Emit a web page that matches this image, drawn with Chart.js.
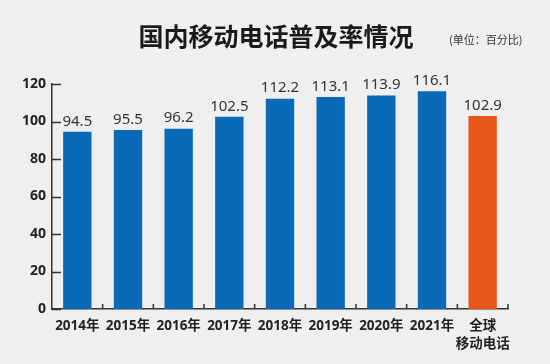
<!DOCTYPE html>
<html><head><meta charset="utf-8">
<script src="https://cdn.jsdelivr.net/npm/chart.js@4"></script>
<style>html,body{margin:0;padding:0;background:#efefef;}#wrap{width:550px;height:364px;}</style>
</head><body><div id="wrap"><canvas id="c" width="550" height="364"></canvas></div>
<script>
const categories = ['2014年','2015年','2016年','2017年','2018年','2019年','2020年','2021年',['全球','移动电话']];
const values = [94.5, 95.5, 96.2, 102.5, 112.2, 113.1, 113.9, 116.1, 102.9];
const barColors = ['#0a6ab8','#0a6ab8','#0a6ab8','#0a6ab8','#0a6ab8','#0a6ab8','#0a6ab8','#0a6ab8','#e8561a'];
const yTicks = [0, 20, 40, 60, 80, 100, 120];
const titleText = '国内移动电话普及率情况';
const unitText = '(单位：百分比)';

const FONT = "'Noto Sans','Noto Sans CJK SC',sans-serif";

const deco = {
  id: 'deco',
  beforeDraw(chart) {
    const ctx = chart.ctx;
    ctx.save();
    ctx.fillStyle = '#efefef';
    ctx.fillRect(0, 0, chart.width, chart.height);
    ctx.restore();
  },
  afterDraw(chart) {
    const ctx = chart.ctx;
    const ys = chart.scales.y;
    const area = chart.chartArea;
    ctx.save();
    // title
    ctx.fillStyle = '#1a1a1a';
    ctx.font = "bold 25px 'Noto Sans CJK SC',sans-serif";
    ctx.textAlign = 'center';
    ctx.textBaseline = 'middle';
    ctx.fillText(titleText, 276, 36);
    ctx.font = "11px 'Noto Sans CJK SC',sans-serif";
    ctx.fillStyle = '#333';
    ctx.textAlign = 'left';
    ctx.fillText(unitText, 449, 40);
    // inner ticks
    ctx.strokeStyle = '#333';
    ctx.lineWidth = 1.5;
    ctx.beginPath();
    yTicks.forEach(v => {
      const y = Math.round(ys.getPixelForValue(v)) + 0.5;
      ctx.moveTo(area.left, y);
      ctx.lineTo(area.left + 9, y);
    });
    const n = categories.length;
    const w = (area.right - area.left) / n;
    for (let i = 1; i <= n; i++) {
      const x = area.left + i * w;
      ctx.moveTo(x, area.bottom);
      ctx.lineTo(x, area.bottom - 5);
    }
    ctx.stroke();
    // value labels
    const meta = chart.getDatasetMeta(0);
    ctx.fillStyle = '#333';
    ctx.font = "15px " + FONT;
    ctx.textAlign = 'center';
    ctx.textBaseline = 'bottom';
    meta.data.forEach((bar, i) => {
      ctx.fillText(values[i].toFixed(1), bar.x, bar.y - 3);
    });
    ctx.restore();
  }
};

new Chart(document.getElementById('c'), {
  type: 'bar',
  data: {
    labels: categories,
    datasets: [{
      data: values,
      backgroundColor: barColors,
      borderWidth: 0,
      barPercentage: 0.56,
      categoryPercentage: 1.0
    }]
  },
  options: {
    responsive: false,
    animation: false,
    devicePixelRatio: 1,
    layout: { padding: { top: 84, right: 42, left: 0, bottom: 0 } },
    plugins: { legend: { display: false }, tooltip: { enabled: false }, title: { display: false } },
    scales: {
      x: {
        grid: { display: false, drawTicks: false },
        border: { display: true, color: '#333', width: 1.5 },
        ticks: { color: '#222', font: { family: FONT, size: 13.5, weight: 'bold', lineHeight: 1.35 }, padding: 8, maxRotation: 0, autoSkip: false },
        afterFit(s) { s.height = 55; }
      },
      y: {
        min: 0, max: 120,
        grid: { display: false, drawTicks: false },
        border: { display: true, color: '#333', width: 1.5 },
        ticks: { stepSize: 20, color: '#222', font: { family: FONT, size: 14, weight: 'bold' }, padding: 6 },
        afterFit(s) { s.width = 52; }
      }
    }
  },
  plugins: [deco]
});
</script></body></html>
